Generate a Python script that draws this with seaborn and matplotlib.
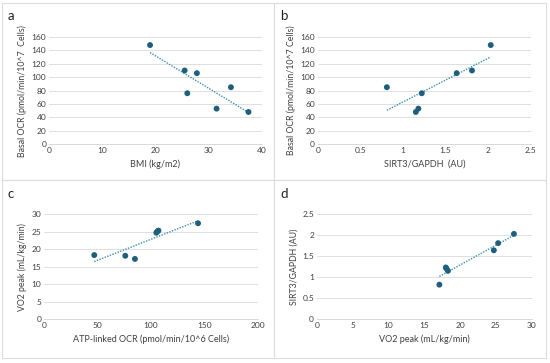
import numpy as np
import pandas as pd
import seaborn as sns
import matplotlib.pyplot as plt
from matplotlib.patches import Rectangle
from matplotlib.ticker import FuncFormatter, MultipleLocator

# values
bmi = [19.0, 25.5, 26.0, 27.8, 31.5, 34.2, 37.5]
basal_ocr_a = [148, 110, 76, 106, 53, 85, 48]

sirt3 = [0.81, 1.15, 1.18, 1.22, 1.63, 1.81, 2.03]
basal_ocr_b = [85, 48, 53, 76, 106, 110, 148]

atp_ocr = [47, 76, 85, 105, 106, 107, 144]
vo2_c = [18.3, 18.1, 17.2, 24.7, 25.1, 25.3, 27.4]

vo2_d = [17.1, 18.0, 18.1, 18.3, 24.7, 25.3, 27.5]
sirt3_d = [0.82, 1.23, 1.20, 1.15, 1.64, 1.81, 2.03]

sns.set_theme(style="white")
plt.rcParams['font.family'] = ['Lato', 'DejaVu Sans']

dot_col = "#1d5f7d"
line_col = "#3b8db0"
grid_col = "#d9d9d9"
txt_col = "#404040"

fig = plt.figure(figsize=(5.5, 3.63), dpi=100)

panels = [
    # letter, x, y, xlabel, ylabel, xlim, xstep, ylim, ystep, axes rect, letter pos
    ("a", bmi, basal_ocr_a, "BMI (kg/m2)", "Basal OCR (pmol/min/10^7  Cells)",
     (0, 40), 10, (0, 160), 20, [0.089, 0.603, 0.387, 0.295], (0.013, 0.955)),
    ("b", sirt3, basal_ocr_b, "SIRT3/GAPDH  (AU)", "Basal OCR (pmol/min/10^7 Cells)",
     (0, 2.5), 0.5, (0, 160), 20, [0.578, 0.603, 0.387, 0.295], (0.509, 0.955)),
    ("c", atp_ocr, vo2_c, "ATP-linked OCR (pmol/min/10^6 Cells)", "VO2 peak (mL/kg/min)",
     (0, 200), 50, (0, 30), 5, [0.080, 0.121, 0.389, 0.289], (0.013, 0.465)),
    ("d", vo2_d, sirt3_d, "VO2 peak (mL/kg/min)", "SIRT3/GAPDH (AU)",
     (0, 30), 5, (0, 2.5), 0.5, [0.576, 0.121, 0.391, 0.289], (0.509, 0.465)),
]

fmt = FuncFormatter(lambda v, p: f"{v:g}")

for letter, xs, ys, xl, yl, xlim, xstep, ylim, ystep, rect, lpos in panels:
    ax = fig.add_axes(rect)
    df = pd.DataFrame({"x": xs, "y": ys})
    sns.regplot(data=df, x="x", y="y", ax=ax, scatter=False, ci=None,
                truncate=True, line_kws=dict(color=line_col, lw=1.0, ls=(0, (1, 1))))
    sns.scatterplot(data=df, x="x", y="y", ax=ax, color=dot_col, s=18,
                    edgecolor="none", zorder=3)
    ax.set_xlim(*xlim)
    ax.set_ylim(*ylim)
    ax.xaxis.set_major_locator(MultipleLocator(xstep))
    ax.yaxis.set_major_locator(MultipleLocator(ystep))
    ax.xaxis.set_major_formatter(fmt)
    ax.yaxis.set_major_formatter(fmt)
    ax.grid(axis="y", color=grid_col, lw=0.6)
    ax.set_axisbelow(True)
    for s in ["top", "right", "left"]:
        ax.spines[s].set_visible(False)
    ax.spines["bottom"].set_color(grid_col)
    ax.spines["bottom"].set_linewidth(0.7)
    ax.tick_params(axis="both", length=0, labelsize=6, colors=txt_col, pad=2)
    ax.set_xlabel(xl, fontsize=6.5, color=txt_col, labelpad=4)
    ax.set_ylabel(yl, fontsize=6.3, color=txt_col, labelpad=3)
    fig.text(lpos[0], lpos[1], letter, fontsize=9.5, color="#202020", va="center")

# light grey boxes around each panel
for x0, y0, w, h in [(2, 3, 272, 177), (274, 3, 272, 177),
                     (2, 180, 272, 178), (274, 180, 272, 178)]:
    fig.add_artist(Rectangle((x0 / 550, 1 - (y0 + h) / 363), w / 550, h / 363,
                             transform=fig.transFigure, fill=False,
                             edgecolor="#dcdcdc", lw=0.8))

plt.savefig("out.png", dpi=100)
